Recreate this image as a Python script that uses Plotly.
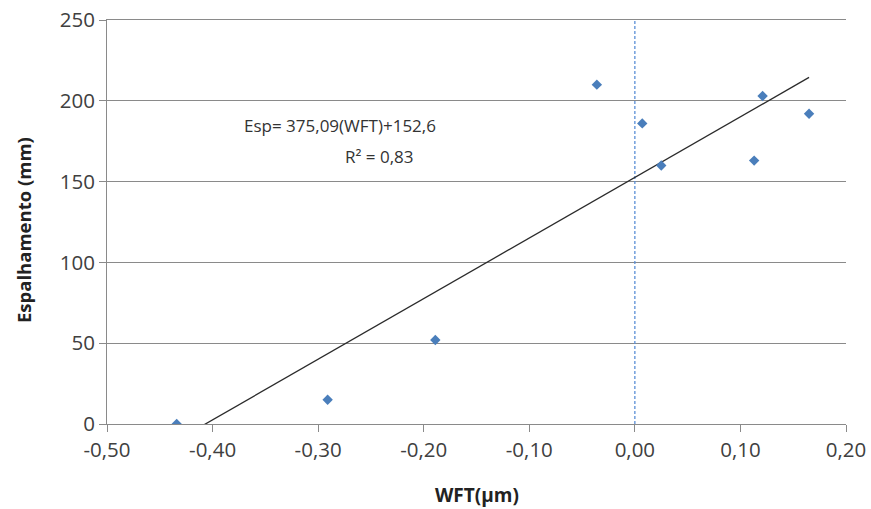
import plotly.graph_objects as go

# Data
wft = [-0.434, -0.291, -0.189, -0.036, 0.007, 0.025, 0.113, 0.121, 0.165]
esp = [0, 15, 52, 210, 186, 160, 163, 203, 192]

slope = 375.09
intercept = 152.6

ref_x = [0.0, 0.0]
ref_y = [0, 250]

x_ticks = [-0.5, -0.4, -0.3, -0.2, -0.1, 0.0, 0.1, 0.2]
x_tick_labels = ["-0,50", "-0,40", "-0,30", "-0,20", "-0,10", "0,00", "0,10", "0,20"]
y_ticks = [0, 50, 100, 150, 200, 250]

x_min, x_max = min(wft), max(wft)
trend_x = [x_min, x_max]
trend_y = [slope * v + intercept for v in trend_x]

FONT = "Open Sans"
GRID = "#8a8a8a"

fig = go.Figure()

fig.add_trace(go.Scatter(
    x=ref_x, y=ref_y, mode="lines",
    line=dict(color="#5b8fd6", width=1.3, dash="3px,2px"),
    hoverinfo="skip", showlegend=False,
))

fig.add_trace(go.Scatter(
    x=trend_x, y=trend_y, mode="lines",
    line=dict(color="#2b2b2b", width=1.3),
    hoverinfo="skip", showlegend=False,
))

fig.add_trace(go.Scatter(
    x=wft, y=esp, mode="markers",
    marker=dict(symbol="diamond", size=8, color="#4a7ebb"),
    showlegend=False,
))

fig.add_annotation(
    x=-0.279, y=184.7, xref="x", yref="y",
    text="Esp= 375,09(WFT)+152,6", showarrow=False,
    font=dict(family=FONT, size=17, color="#333333"),
)
fig.add_annotation(
    x=-0.242, y=165.5, xref="x", yref="y",
    text="R² = 0,83", showarrow=False,
    font=dict(family=FONT, size=17, color="#333333"),
)

# Axis titles
fig.add_annotation(
    x=0, y=0.5, xref="paper", yref="paper", xshift=-84, yshift=-8,
    xanchor="center", yanchor="middle",
    text="<b>Espalhamento (mm)</b>", textangle=-90, showarrow=False,
    font=dict(family=FONT, size=18.5, color="#222222"),
)
fig.add_annotation(
    x=0.5, y=0, xref="paper", yref="paper", yshift=-71,
    xanchor="center", yanchor="middle",
    text="<b>WFT(µm)</b>", showarrow=False,
    font=dict(family=FONT, size=19, color="#222222"),
)

fig.update_layout(
    width=871, height=509,
    margin=dict(l=107, r=25, t=20, b=85, autoexpand=False),
    paper_bgcolor="white", plot_bgcolor="white",
    font=dict(family=FONT, color="#404040"),
)

fig.update_xaxes(
    range=[-0.5, 0.2], automargin=False,
    tickvals=x_ticks, ticktext=x_tick_labels,
    showgrid=False, zeroline=False,
    showline=True, mirror=True, linecolor=GRID, linewidth=1,
    ticks="outside", ticklen=7, tickcolor=GRID, tickwidth=1,
    tickfont=dict(family=FONT, size=20.5, color="#404040"),
    ticklabeloverflow="allow",
)

fig.update_yaxes(
    range=[0, 250], automargin=False,
    tickvals=y_ticks,
    showgrid=True, gridcolor=GRID, gridwidth=1,
    zeroline=False,
    showline=True, linecolor=GRID, linewidth=1,
    ticks="outside", ticklen=7, tickcolor=GRID, tickwidth=1,
    tickfont=dict(family=FONT, size=20.5, color="#404040"),
    ticklabeloverflow="allow",
)

# remove the default 8px body margin so the figure sits at the page origin
fig.write_html(
    "out.html",
    config={"displayModeBar": False},
    post_script="document.body.style.margin='0';document.body.style.overflow='hidden';",
)
